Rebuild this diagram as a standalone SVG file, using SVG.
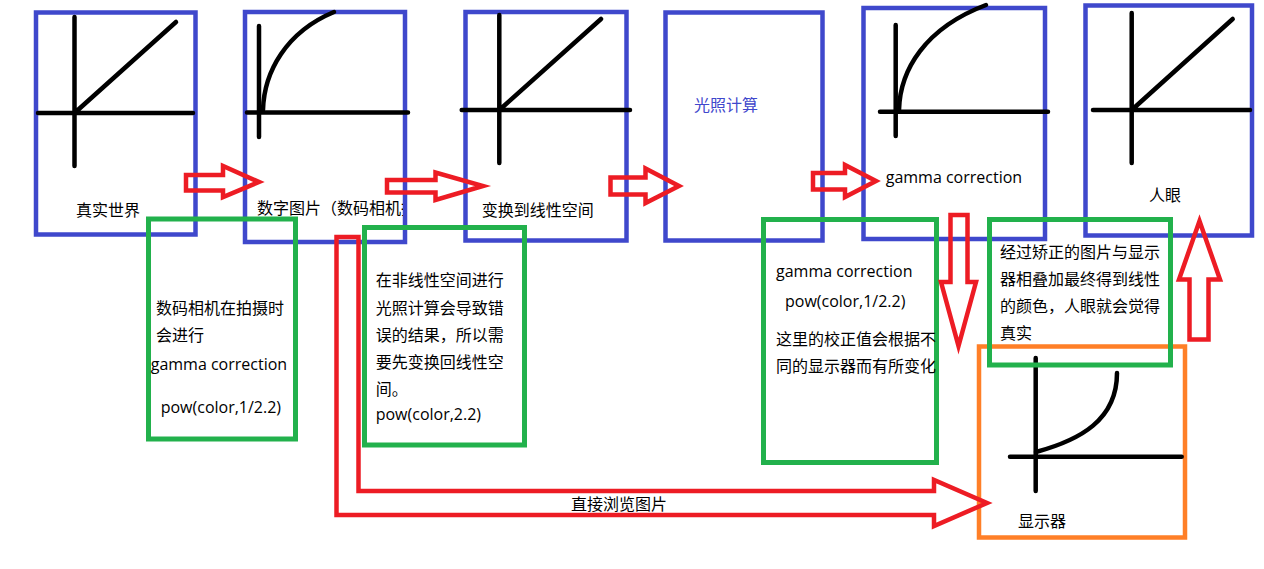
<svg xmlns="http://www.w3.org/2000/svg" width="1264" height="569" viewBox="0 0 1264 569">
<style>
.blue{fill:none;stroke:#3F48CC;stroke-width:4.5}
.green{fill:none;stroke:#22B14C;stroke-width:5}
.orange{fill:none;stroke:#FF7F27;stroke-width:4.5}
.axis{fill:none;stroke:#000;stroke-width:4.5;stroke-linecap:round}
.arrow{fill:none;stroke:#ED1C24;stroke-width:4.5;stroke-linejoin:miter}
.cjk{font-family:"Noto Sans CJK SC",sans-serif;font-size:16px;fill:#000}
.lat{font-family:"Open Sans","Noto Sans CJK SC",sans-serif;font-size:16px;fill:#000}
</style>
<defs>
<clipPath id="clip2"><rect x="245" y="180" width="158" height="60"/></clipPath>
</defs>
<rect x="0" y="0" width="1264" height="569" fill="#fff"/>

<g id="node-real-world">
<rect class="blue" x="36" y="12.5" width="159.5" height="222"/>
<path class="axis" d="M74.5,17V166M38,113H193M74.5,113L176,22"/>
<text class="cjk" x="76" y="216">真实世界</text>
</g>

<g id="node-digital-image">
<rect class="blue" x="245" y="12" width="160" height="230"/>
<path class="axis" d="M259,26V137M247,112.5H408"/>
<path class="axis" d="M263,110C264,72 286,32 334,12"/>
<text class="cjk" x="257" y="214" clip-path="url(#clip2)">数字图片（数码相机拍摄）</text>
</g>

<g id="node-to-linear">
<rect class="blue" x="465.5" y="12" width="161" height="228.5"/>
<path class="axis" d="M499.3,15V163M461.7,110H630M499.3,110L601,19"/>
<text class="cjk" x="481.7" y="216">变换到线性空间</text>
</g>

<g id="node-lighting">
<rect class="blue" x="665.5" y="12.5" width="157" height="228"/>
<text class="cjk" x="694" y="111" style="fill:#3F48CC">光照计算</text>
</g>

<g id="node-gamma">
<rect class="blue" x="863.5" y="8" width="181.5" height="231"/>
<path class="axis" d="M895.7,25V136M880,111.7H1048"/>
<path class="axis" d="M899,110C900,70 925,28 986,5"/>
<text class="lat" x="885.7" y="183">gamma correction</text>
</g>

<g id="node-eye">
<rect class="blue" x="1085.5" y="5.5" width="166.5" height="230"/>
<path class="axis" d="M1131.7,13V163M1093,110H1250M1131.7,110L1232.7,19"/>
<text class="cjk" x="1149" y="201">人眼</text>
</g>

<g id="node-monitor">
<rect class="orange" x="979" y="346.5" width="206" height="191"/>
<path class="axis" d="M1035.7,358V491M1010,456.7H1181.7"/>
<path class="axis" d="M1036,452C1080,440 1117,420 1117,373"/>
<text class="cjk" x="1018" y="527">显示器</text>
</g>

<g id="note-camera">
<rect class="green" x="148.5" y="219" width="147" height="220"/>
<text class="cjk" x="156" y="314">数码相机在拍摄时</text>
<text class="cjk" x="156" y="341">会进行</text>
<text class="lat" x="150.7" y="370">gamma correction</text>
<text class="lat" x="160.7" y="412.5">pow(color,1/2.2)</text>
</g>

<g id="note-linear">
<rect class="green" x="364.5" y="227.5" width="160" height="217.5"/>
<text class="cjk" x="375.7" y="286">在非线性空间进行</text>
<text class="cjk" x="375.7" y="314">光照计算会导致错</text>
<text class="cjk" x="375.7" y="341">误的结果，所以需</text>
<text class="cjk" x="375.7" y="368">要先变换回线性空</text>
<text class="cjk" x="375.7" y="395">间。</text>
<text class="lat" x="375.7" y="420">pow(color,2.2)</text>
</g>

<g id="note-gamma">
<rect class="green" x="763.5" y="219.5" width="173" height="243"/>
<text class="lat" x="776" y="277">gamma correction</text>
<text class="lat" x="785" y="307">pow(color,1/2.2)</text>
<text class="cjk" x="776" y="345">这里的校正值会根据不</text>
<text class="cjk" x="776" y="372">同的显示器而有所变化</text>
</g>

<g id="note-result">
<rect class="green" x="989.5" y="219.5" width="181" height="145.5"/>
<text class="cjk" x="1000" y="258">经过矫正的图片与显示</text>
<text class="cjk" x="1000" y="285">器相叠加最终得到线性</text>
<text class="cjk" x="1000" y="312">的颜色，人眼就会觉得</text>
<text class="cjk" x="1000" y="339">真实</text>
</g>

<g id="connectors">
<path id="a1" class="arrow" d="M186,175H223V166L259,182L223,197V190.5H186Z"/>
<path id="a2" class="arrow" d="M387,180H435.5V172.5L483,186L435.5,200V192.5H387Z"/>
<path id="a3" class="arrow" d="M610.5,177.5H645.5V168.5L679,186L645.5,203V194.5H610.5Z"/>
<path id="a4" class="arrow" d="M813,173H845V165L876,181L845,197V189.5H813Z"/>
<path id="a5" class="arrow" d="M950.5,215H967.5V282H976L958.5,346L941,282H950.5Z"/>
<path id="a6" class="arrow" d="M1189.5,339.5V279.5H1179L1199.5,221L1220,279.5H1208.5V339.5Z"/>
<path id="a7" class="arrow" d="M336.5,237H358.5V491H934V480L987,503L934,526V515H336.5Z"/>
<text class="cjk" x="571" y="510">直接浏览图片</text>
</g>
</svg>
